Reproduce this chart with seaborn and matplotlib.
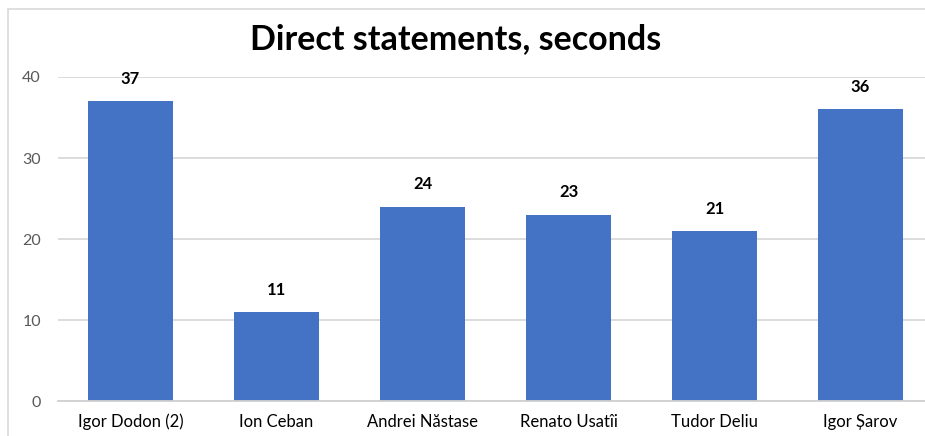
import matplotlib
matplotlib.use("Agg")
import matplotlib.pyplot as plt
import seaborn as sns
import pandas as pd
from matplotlib.patches import Rectangle

categories = ["Igor Dodon (2)", "Ion Ceban", "Andrei Năstase", "Renato Usatîi", "Tudor Deliu", "Igor Șarov"]
values = [37, 11, 24, 23, 21, 36]
yticks = [0, 10, 20, 30, 40]
title = "Direct statements, seconds"

sns.set_style("white")
plt.rcParams['font.family'] = ['Lato', 'DejaVu Sans']

df = pd.DataFrame({"name": categories, "sec": values})

W, H = 925, 436
fig = plt.figure(figsize=(W / 100, H / 100), dpi=100)
left = 57.5 / W
right = 925 / W
y0 = (H - 401) / H
y40 = (H - 77) / H
ax = fig.add_axes([left, y0, right - left, y40 - y0])

sns.barplot(data=df, x="name", y="sec", color="#4472C4", width=0.585, ax=ax,
            saturation=1, linewidth=0, edgecolor="none")

span = (925 - 57.5) / 146.0
ax.set_xlim(-0.5, -0.5 + span)
ax.set_ylim(0, 40)
ax.set_yticks(yticks)
ax.yaxis.grid(True, color="#D9D9D9", linewidth=1.3)
ax.set_axisbelow(True)
for s in ["top", "right", "left"]:
    ax.spines[s].set_visible(False)
ax.spines["bottom"].set_color("#D0D0D0")
ax.spines["bottom"].set_linewidth(1.3)
ax.set_xlabel("")
ax.set_ylabel("")
ax.tick_params(axis="y", length=0, pad=12, labelsize=11.5, labelcolor="#595959")
ax.tick_params(axis="x", length=0, pad=9, labelsize=12, labelcolor="black")

for i, v in enumerate(values):
    ax.annotate(str(v), (i, v), xytext=(0, 16), textcoords="offset points",
                ha="center", va="center", fontsize=12, fontweight="bold", color="black")

fig.text(456 / W, (H - 39) / H, title, ha="center", va="center",
         fontsize=24.5, fontweight="bold", color="black")

fig.patches.append(Rectangle((8 / W, -0.1), 2, (H - 9) / H + 0.1, transform=fig.transFigure,
                             fill=False, edgecolor="#D9D9D9", linewidth=1.2))

fig.savefig("out.png", dpi=100)
